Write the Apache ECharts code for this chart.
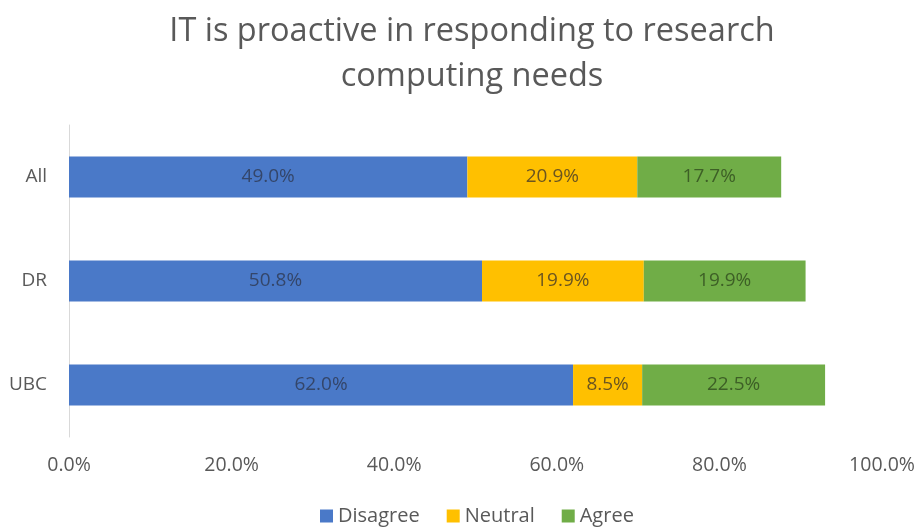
<!DOCTYPE html>
<html><head><meta charset="utf-8">
<script src="https://cdn.jsdelivr.net/npm/echarts@6/dist/echarts.min.js"></script>
<style>html,body{margin:0;padding:0;background:#fff}#c{width:920px;height:531px}</style>
</head><body><div id="c"></div>
<script>
var categories = ['UBC', 'DR', 'All'];
var disagree = [62.0, 50.8, 49.0];
var neutral = [8.5, 19.9, 20.9];
var agree = [22.5, 19.9, 17.7];
var seriesNames = ['Disagree', 'Neutral', 'Agree'];
var FONT = "'Open Sans', 'Noto Sans', sans-serif";
var chart = echarts.init(document.getElementById('c'));
function s(name, data, color, labelColor) {
  return {
    name: name, type: 'bar', stack: 'total', data: data, barWidth: 41,
    itemStyle: {color: color},
    label: {show: true, position: 'inside', formatter: function (p) { return p.value.toFixed(1) + '%'; },
      color: labelColor, fontSize: 19, fontFamily: FONT}
  };
}
chart.setOption({
  animation: false,
  textStyle: {fontFamily: FONT},
  title: {text: 'IT is proactive in responding to research\ncomputing needs', left: 467, textAlign: 'center', top: 4,
    textStyle: {fontSize: 32.5, fontWeight: 'normal', color: '#595959', lineHeight: 45, fontFamily: FONT}},
  legend: {bottom: 0, left: 315, itemWidth: 13, itemHeight: 13, itemGap: 27, icon: 'rect',
    textStyle: {fontSize: 20, color: '#595959', fontFamily: FONT}, data: seriesNames},
  grid: {left: 69, right: 38, top: 125, bottom: 94, containLabel: false},
  xAxis: {type: 'value', min: 0, max: 100, interval: 20,
    axisLine: {show: false}, axisTick: {show: false}, splitLine: {show: false},
    axisLabel: {formatter: function (v) { return v.toFixed(1) + '%'; }, fontSize: 19.5, color: '#595959', margin: 18, fontFamily: FONT}},
  yAxis: {type: 'category', data: categories,
    axisLine: {show: true, lineStyle: {color: '#d9d9d9'}}, axisTick: {show: false},
    axisLabel: {fontSize: 19, color: '#595959', margin: 22, fontFamily: FONT}},
  series: [
    s(seriesNames[0], disagree, '#4a79c8', '#34466a'),
    s(seriesNames[1], neutral, '#ffc000', '#6b5520'),
    s(seriesNames[2], agree, '#70ad47', '#3d5f26')
  ]
});
</script></body></html>
